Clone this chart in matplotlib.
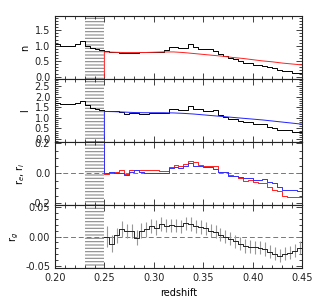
import numpy as np
import matplotlib
matplotlib.use("Agg")
import matplotlib.pyplot as plt
from matplotlib.ticker import MultipleLocator, FormatStrFormatter

# ---- data ----
# black histograms, 0.005 wide bins from 0.20 to 0.45
hist_edges = np.round(np.arange(0.20, 0.45, 0.005), 3)
n_obs = [1.05, 1.00, 0.98, 0.99, 1.05, 1.15, 0.98, 0.92, 0.88, 0.85,
         0.82, 0.80, 0.79, 0.78, 0.76, 0.77, 0.78, 0.79, 0.79, 0.80,
         0.80, 0.80, 0.86, 0.95, 0.95, 0.93, 0.93, 1.07, 0.96, 0.88,
         0.88, 0.88, 0.82, 0.73, 0.66, 0.60, 0.56, 0.52, 0.44, 0.44,
         0.38, 0.38, 0.36, 0.31, 0.28, 0.22, 0.17, 0.17, 0.12, 0.11]
n_end = 0.02
l_obs = [1.70, 1.63, 1.63, 1.63, 1.68, 1.80, 1.60, 1.46, 1.40, 1.35,
         1.30, 1.31, 1.30, 1.27, 1.20, 1.22, 1.25, 1.20, 1.20, 1.22,
         1.22, 1.22, 1.22, 1.43, 1.43, 1.38, 1.38, 1.58, 1.43, 1.43,
         1.30, 1.30, 1.38, 1.14, 1.03, 0.95, 0.95, 0.87, 0.79, 0.79,
         0.70, 0.70, 0.70, 0.59, 0.51, 0.43, 0.43, 0.43, 0.35, 0.35]
l_end = 0.11

# smooth model curves (red = n, blue = l)
model_z = np.round(np.arange(0.25, 0.4501, 0.01), 3)
n_model = [0.80, 0.79, 0.78, 0.78, 0.78, 0.79, 0.80, 0.80, 0.78, 0.75,
           0.72, 0.69, 0.66, 0.62, 0.59, 0.55, 0.51, 0.48, 0.44, 0.41, 0.38]
l_model = [1.30, 1.29, 1.27, 1.25, 1.24, 1.24, 1.24, 1.23, 1.21, 1.18,
           1.14, 1.10, 1.06, 1.02, 0.98, 0.94, 0.90, 0.85, 0.80, 0.75, 0.70]

# residual panels, 0.005 bins from 0.25 to 0.45
res_edges = np.round(np.arange(0.25, 0.45, 0.005), 3)
r_e = [-0.006, 0.004, 0.010, 0.025, -0.006, 0.020, 0.025, 0.020, 0.025, 0.020,
       0.020, 0.015, 0.015, 0.045, 0.057, 0.053, 0.060, 0.083, 0.075, 0.057,
       0.053, 0.047, 0.050, 0.010, 0.010, -0.013, -0.017, -0.028, -0.053, -0.045,
       -0.060, -0.066, -0.066, -0.090, -0.110, -0.117, -0.150, -0.155, -0.155, -0.160]
r_i = [0.000, 0.008, 0.004, 0.004, -0.010, 0.010, 0.020, 0.010, 0.004, 0.000,
       0.000, 0.004, 0.000, 0.036, 0.040, 0.036, 0.047, 0.068, 0.053, 0.051,
       0.040, 0.040, 0.032, 0.010, 0.010, -0.017, -0.017, -0.023, -0.032, -0.032,
       -0.045, -0.043, -0.038, -0.060, -0.066, -0.090, -0.110, -0.113, -0.113, -0.117]
r_g = [0.000, -0.012, 0.002, 0.013, 0.009, 0.009, -0.002, 0.010, 0.012, 0.018,
       0.015, 0.021, 0.018, 0.019, 0.018, 0.017, 0.022, 0.021, 0.017, 0.016,
       0.014, 0.010, 0.008, 0.003, 0.000, -0.004, -0.008, -0.012, -0.016, -0.017,
       -0.018, -0.019, -0.021, -0.026, -0.029, -0.032, -0.029, -0.027, -0.024, -0.019]
r_g_end = -0.036
r_g_err = [0.017, 0.014, 0.013, 0.013, 0.012, 0.012, 0.013, 0.012, 0.012, 0.012,
           0.012, 0.012, 0.011, 0.011, 0.011, 0.011, 0.011, 0.011, 0.011, 0.011,
           0.011, 0.011, 0.011, 0.011, 0.011, 0.011, 0.011, 0.011, 0.011, 0.011,
           0.011, 0.011, 0.011, 0.011, 0.011, 0.011, 0.011, 0.011, 0.011, 0.011]

mask_lo, mask_hi = 0.23, 0.25
z_lo, z_hi = 0.20, 0.45

# ---- figure ----
plt.rcParams['font.family'] = ['DejaVu Sans']
plt.rcParams['hatch.linewidth'] = 0.8
fig = plt.figure(figsize=(3.19, 3.04), dpi=100)

left, width = 0.1724, 0.7743
bottoms = [0.7401, 0.5329, 0.3257, 0.1184]
height = 0.2072
axes = [fig.add_axes([left, b, width, height]) for b in bottoms]

ylims = [(-0.075, 1.96), (-0.14, 2.83), (-0.21, 0.21), (-0.053, 0.053)]
ymaj = [0.5, 0.5, 0.2, 0.05]
ymin = [0.1, 0.1, 0.05, 0.01]
yfmt = ['%.1f', '%.1f', '%.1f', '%.2f']
ylabels = ['n', 'l', r'r$_e$, r$_i$', r'r$_g$']

for i, ax in enumerate(axes):
    ax.set_xlim(z_lo, z_hi)
    ax.set_ylim(*ylims[i])
    ax.axvspan(mask_lo, mask_hi, facecolor='none', edgecolor='#8a8a8a',
               hatch='-----', linewidth=0)
    ax.xaxis.set_major_locator(MultipleLocator(0.05))
    ax.xaxis.set_minor_locator(MultipleLocator(0.01))
    ax.yaxis.set_major_locator(MultipleLocator(ymaj[i]))
    ax.yaxis.set_minor_locator(MultipleLocator(ymin[i]))
    ax.yaxis.set_major_formatter(FormatStrFormatter(yfmt[i]))
    ax.tick_params(which='both', direction='in', top=True, right=True,
                   labelsize=7, colors='#222222', width=0.6)
    ax.tick_params(which='major', length=4)
    ax.tick_params(which='minor', length=2)
    for sp in ax.spines.values():
        sp.set_linewidth(0.8)
        sp.set_color('#222222')
    ax.set_ylabel(ylabels[i], fontsize=7, labelpad=3)
    if i < 3:
        ax.tick_params(labelbottom=False)

# panel 1: n
ax = axes[0]
ax.step(np.append(hist_edges, z_hi), n_obs + [n_end], where='post',
        color='black', lw=0.7)
ax.plot(np.append(model_z[0], model_z), [0.0] + n_model, color='#ff2020', lw=0.7)

# panel 2: l
ax = axes[1]
ax.step(np.append(hist_edges, z_hi), l_obs + [l_end], where='post',
        color='black', lw=0.7)
ax.plot(np.append(model_z[0], model_z), [0.0] + l_model, color='#2020ff', lw=0.7)

# panel 3: r_e, r_i
ax = axes[2]
ax.axhline(0, color='#777777', lw=0.7, dashes=(5, 3))
xs = np.concatenate([[res_edges[0]], res_edges, [z_hi]])
ax.step(xs, [0.3] + r_e + [-0.3], where='post', color='#ff2020', lw=0.7)
ax.step(xs, [0.3] + r_i + [-0.3], where='post', color='#3030ff', lw=0.7)

# panel 4: r_g
ax = axes[3]
ax.axhline(0, color='#777777', lw=0.7, dashes=(5, 3))
centers = res_edges + 0.0025
ax.errorbar(centers, r_g, yerr=r_g_err, fmt='none', ecolor='#999999',
            elinewidth=0.8, capsize=0)
ax.step(np.append(res_edges, z_hi), r_g + [r_g_end], where='post',
        color='#222222', lw=0.7)
ax.set_xlabel('redshift', fontsize=7, labelpad=4)
ax.xaxis.set_major_formatter(FormatStrFormatter('%.2f'))

fig.savefig('out.png', dpi=100)
